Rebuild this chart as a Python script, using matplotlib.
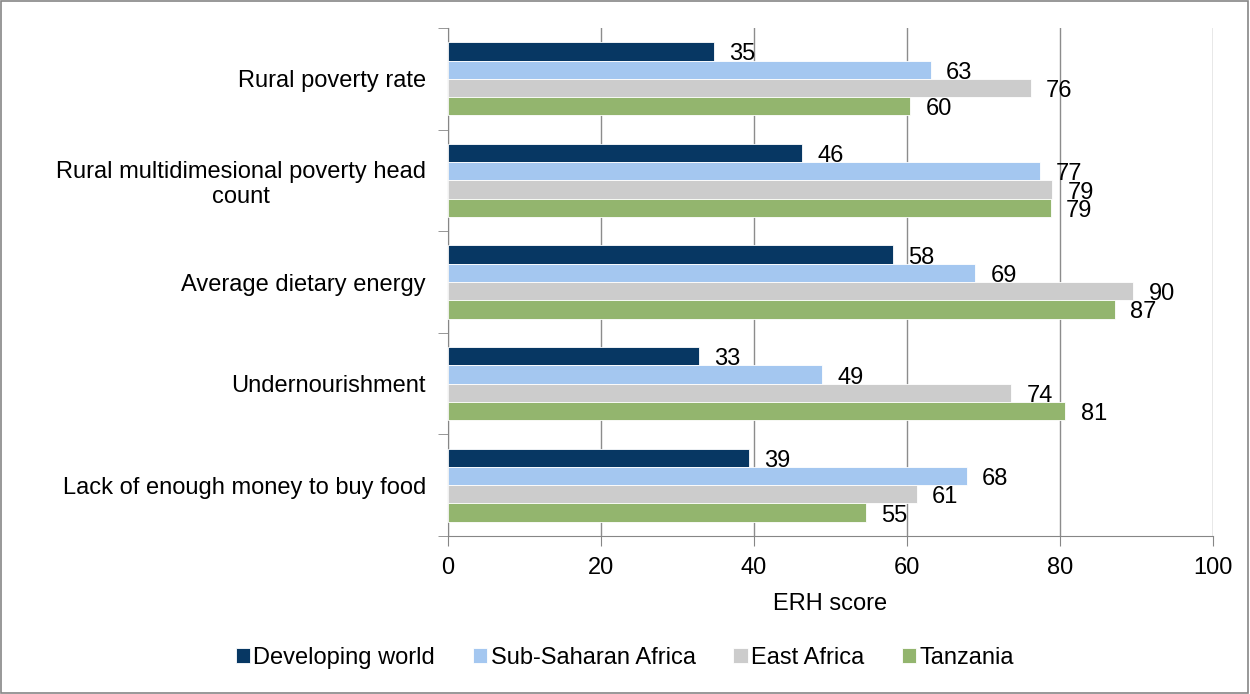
import matplotlib.pyplot as plt
import matplotlib.patches as mpatches
import numpy as np

plt.rcParams['font.family'] = ['Liberation Sans', 'DejaVu Sans']

# data
categories = ['Rural poverty rate',
              'Rural multidimesional poverty head\ncount',
              'Average dietary energy',
              'Undernourishment',
              'Lack of enough money to buy food']
series = ['Developing world', 'Sub-Saharan Africa', 'East Africa', 'Tanzania']
developing = [34.8, 46.3, 58.2, 32.8, 39.3]
sub_saharan = [63.1, 77.4, 68.9, 48.9, 67.8]
east_africa = [76.2, 79.0, 89.6, 73.6, 61.3]
tanzania = [60.4, 78.8, 87.2, 80.7, 54.6]
colors = ['#073763', '#a4c7f0', '#cccccc', '#93b56e']

values = [developing, sub_saharan, east_africa, tanzania]
fs = 17

fig = plt.figure(figsize=(12.5, 6.94), dpi=100)
ax = fig.add_axes([448/1250, 1-536/694, (1213-448)/1250, (536-28)/694])

y = np.arange(len(categories))
h = 0.18
for j, (name, vals, c) in enumerate(zip(series, values, colors)):
    pos = y + (j - 1.5) * h
    ax.barh(pos, vals, height=h, color=c, edgecolor='white', linewidth=0.6,
            label=name, zorder=3)
    for p, v in zip(pos, vals):
        ax.text(v + 2.0, p + 0.03, f"{v:.0f}", va='center', ha='left',
                fontsize=fs, color='black', zorder=4)

ax.set_xlim(0, 100)
ax.set_ylim(len(categories) - 0.5, -0.5)
ax.set_xticks(np.arange(0, 101, 20))
ax.set_yticks(y)
ax.set_yticklabels(categories, fontsize=fs, ha='right', multialignment='center')
ax.set_yticks(np.arange(-0.5, len(categories), 1), minor=True)
ax.tick_params(axis='y', which='major', length=0, pad=16)
ax.tick_params(axis='y', which='minor', length=7, color='#868686')
ax.tick_params(axis='x', length=7, color='#868686', labelsize=fs, pad=8)
ax.xaxis.grid(True, color='#8c8c8c', linewidth=1)
ax.set_axisbelow(True)
for s in ['top', 'right']:
    ax.spines[s].set_visible(False)
for s in ['left', 'bottom']:
    ax.spines[s].set_color('#868686')
ax.set_xlabel('ERH score', fontsize=fs, labelpad=10)

ax.legend(loc='lower center', bbox_to_anchor=(0.5, 0.005), bbox_transform=fig.transFigure,
          ncol=4, frameon=False, fontsize=fs, handlelength=0.6, handleheight=0.6,
          handletextpad=0.15, columnspacing=1.6)

fig.patches.append(mpatches.Rectangle((0.0005, 0.001), 0.998, 0.997, transform=fig.transFigure,
                                      fill=False, edgecolor='#868686', linewidth=1.2))

plt.savefig('out.png', dpi=100)
